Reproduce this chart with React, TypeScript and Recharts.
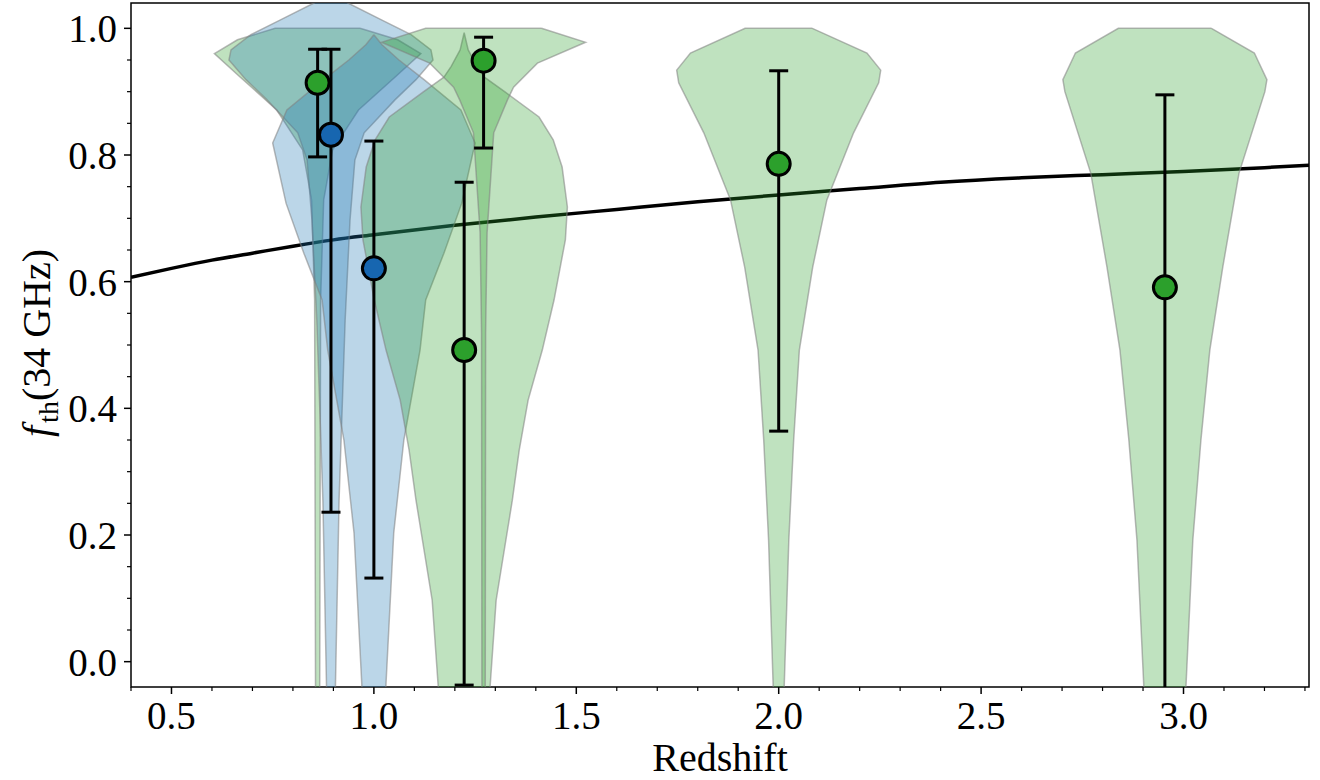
import { ComposedChart, ReferenceArea, Scatter, XAxis, YAxis } from "recharts";

const FONT = "Liberation Serif";
const GREEN = "#2ca02c";
const BLUE = "#1f77b4";

// axis ticks
const xTicks = [
  0.4, 0.5, 0.6, 0.7, 0.8, 0.9, 1.0, 1.1, 1.2, 1.3, 1.4, 1.5, 1.6, 1.7, 1.8, 1.9, 2.0, 2.1, 2.2,
  2.3, 2.4, 2.5, 2.6, 2.7, 2.8, 2.9, 3.0, 3.1, 3.2, 3.3,
];
const xMajor = [0.5, 1.0, 1.5, 2.0, 2.5, 3.0];
const yTicks = [
  0, 0.05, 0.1, 0.15, 0.2, 0.25, 0.3, 0.35, 0.4, 0.45, 0.5, 0.55, 0.6, 0.65, 0.7, 0.75, 0.8, 0.85,
  0.9, 0.95, 1.0,
];
const yMajor = [0, 0.2, 0.4, 0.6, 0.8, 1.0];

// violins: centre, levels (top -> bottom) and half widths in redshift units
const g1Center = 0.861;
const g1Levels = [1.0, 0.982, 0.96, 0.924, 0.871, 0.808, 0.729, 0.571, -0.1];
const g1Widths = [0.105, 0.198, 0.255, 0.193, 0.101, 0.037, 0.015, 0.0074, 0.005];

const b1Center = 0.894;
const b1Levels = [1.055, 1.04, 1.013, 0.99, 0.966, 0.95, 0.919, 0.887, 0.835, 0.792, 0.697, 0.539, 0.255, -0.04, -0.1];
const b1Widths = [0, 0.042, 0.126, 0.198, 0.247, 0.252, 0.21, 0.158, 0.082, 0.059, 0.047, 0.035, 0.02, 0.011, 0.01];

const b2Center = 1.0;
const b2Levels = [0.99, 0.974, 0.95, 0.919, 0.871, 0.819, 0.724, 0.645, 0.571, 0.492, 0.35, 0.203, -0.034, -0.1];
const b2Widths = [0, 0.02, 0.062, 0.124, 0.215, 0.25, 0.217, 0.173, 0.128, 0.114, 0.074, 0.049, 0.03, 0.027];

const g3Center = 1.223;
const g3Levels = [0.993, 0.966, 0.94, 0.923, 0.9, 0.86, 0.824, 0.781, 0.718, 0.666, 0.571, 0.492, 0.413, 0.334, 0.255, 0.097, -0.04, -0.1];
const g3Widths = [0, 0.01, 0.032, 0.05, 0.1, 0.185, 0.22, 0.242, 0.255, 0.25, 0.222, 0.193, 0.158, 0.136, 0.119, 0.079, 0.064, 0.06];

const g2Center = 1.271;
const g2Levels = [1.0, 0.978, 0.945, 0.907, 0.887, 0.835, 0.677, 0.519, -0.1];
const g2Widths = [0.143, 0.252, 0.133, 0.074, 0.059, 0.025, 0.0086, 0.005, 0.004];

const g4Center = 2.0;
const g4Levels = [1.0, 0.961, 0.934, 0.914, 0.835, 0.729, 0.623, 0.492, 0.35, 0.192, -0.04, -0.1];
const g4Widths = [0.083, 0.218, 0.252, 0.247, 0.185, 0.119, 0.084, 0.051, 0.037, 0.025, 0.0136, 0.012];

const g5Center = 2.954;
const g5Levels = [1.0, 0.961, 0.919, 0.9, 0.771, 0.623, 0.492, 0.35, 0.192, -0.04, -0.1];
const g5Widths = [0.115, 0.221, 0.252, 0.247, 0.183, 0.143, 0.111, 0.089, 0.069, 0.052, 0.05];

// measured points with error ranges
const greenX = [0.861, 1.271, 1.223, 2.0, 2.954];
const greenY = [0.914, 0.949, 0.492, 0.786, 0.591];
const greenLo = [0.797, 0.811, -0.037, 0.364, -0.2];
const greenHi = [0.967, 0.986, 0.757, 0.933, 0.895];

const blueX = [0.894, 1.0];
const blueY = [0.832, 0.621];
const blueLo = [0.236, 0.132];
const blueHi = [0.967, 0.822];

// model curve
const curveX = [0.4, 0.5, 0.6, 0.7, 0.8, 0.9, 1.0, 1.2, 1.4, 1.6, 1.8, 2.0, 2.2, 2.4, 2.6, 2.8, 3.0, 3.2, 3.31];
const curveY = [0.607, 0.621, 0.634, 0.645, 0.656, 0.666, 0.674, 0.689, 0.702, 0.714, 0.726, 0.737, 0.747, 0.757, 0.764, 0.769, 0.774, 0.78, 0.784];

function outline(center: number, levels: number[], widths: number[]) {
  const right = levels.map((y, i) => ({ x: center + widths[i], y }));
  const left = levels.map((y, i) => ({ x: center - widths[i], y })).reverse();
  return [...right, ...left, right[0]];
}

const violins = [
  { key: "g1", color: GREEN, data: outline(g1Center, g1Levels, g1Widths) },
  { key: "b1", color: BLUE, data: outline(b1Center, b1Levels, b1Widths) },
  { key: "b2", color: BLUE, data: outline(b2Center, b2Levels, b2Widths) },
  { key: "g3", color: GREEN, data: outline(g3Center, g3Levels, g3Widths) },
  { key: "g2", color: GREEN, data: outline(g2Center, g2Levels, g2Widths) },
  { key: "g4", color: GREEN, data: outline(g4Center, g4Levels, g4Widths) },
  { key: "g5", color: GREEN, data: outline(g5Center, g5Levels, g5Widths) },
];

const errorBars = [
  ...greenX.map((x, i) => ({ key: `ge${i}`, data: [{ x, y: greenLo[i] }, { x, y: greenHi[i] }] })),
  ...blueX.map((x, i) => ({ key: `be${i}`, data: [{ x, y: blueLo[i] }, { x, y: blueHi[i] }] })),
];

const curveData = curveX.map((x, i) => ({ x, y: curveY[i] }));
const greenData = greenX.map((x, i) => ({ x, y: greenY[i] }));
const blueData = blueX.map((x, i) => ({ x, y: blueY[i] }));

const NoDot = () => <g />;

const Cap = (props: any) => (
  <line x1={props.cx - 9.5} x2={props.cx + 9.5} y1={props.cy} y2={props.cy} stroke="#000" strokeWidth={3} />
);

const dot = (fill: string) => (props: any) => (
  <circle cx={props.cx} cy={props.cy} r={11.5} fill={fill} stroke="#000" strokeWidth={3} />
);

const XTick = (props: any) => {
  const { x, y, payload } = props;
  const major = xMajor.includes(payload.value);
  return (
    <g>
      <line x1={x} x2={x} y1={y} y2={y + (major ? 7 : 4)} stroke="#000" strokeWidth={major ? 1.5 : 1.2} />
      {major && (
        <text x={x} y={y + 42} textAnchor="middle" fontFamily={FONT} fontSize={39} fill="#000">
          {payload.value.toFixed(1)}
        </text>
      )}
    </g>
  );
};

const YTick = (props: any) => {
  const { x, y, payload } = props;
  const major = yMajor.includes(payload.value);
  return (
    <g>
      <line x1={x - (major ? 7 : 4)} x2={x} y1={y} y2={y} stroke="#000" strokeWidth={major ? 1.5 : 1.2} />
      {major && (
        <text x={x - 14} y={y + 14} textAnchor="end" fontFamily={FONT} fontSize={39} fill="#000">
          {payload.value.toFixed(1)}
        </text>
      )}
    </g>
  );
};

const YLabel = (props: any) => {
  const { x, y, height } = props.viewBox;
  const tx = x + 19;
  const ty = y + height / 2 + 92;
  return (
    <text x={tx} y={ty} transform={`rotate(-90, ${tx}, ${ty})`} fontFamily={FONT} fontSize={40} fill="#000">
      <tspan fontStyle="italic">f</tspan>
      <tspan fontSize={28} dy={8} dx={3}>th</tspan>
      <tspan dy={-8}>(34 GHz)</tspan>
    </text>
  );
};

const XLabel = (props: any) => {
  const { x, y, width } = props.viewBox;
  return (
    <text x={x + width / 2} y={y + 84} textAnchor="middle" fontFamily={FONT} fontSize={40} fill="#000">
      Redshift
    </text>
  );
};

export default function App() {
  return (
    <div style={{ position: "absolute", left: 0, top: 0, width: 1320, height: 780, background: "#fff" }}>
      <ComposedChart width={1320} height={780} margin={{ top: 3, right: 11, bottom: 0, left: 31 }}>
        <XAxis
          type="number"
          dataKey="x"
          domain={[0.4, 3.31]}
          allowDataOverflow
          ticks={xTicks}
          interval={0}
          tickSize={0}
          tickMargin={0}
          tick={<XTick />}
          axisLine={false}
          height={93}
          label={{ content: (p: any) => <XLabel {...p} /> }}
        />
        <YAxis
          type="number"
          dataKey="y"
          domain={[-0.04, 1.04]}
          allowDataOverflow
          ticks={yTicks}
          interval={0}
          tickSize={0}
          tickMargin={0}
          tick={<YTick />}
          axisLine={false}
          width={100}
          label={{ content: (p: any) => <YLabel {...p} /> }}
        />
        <Scatter
          data={curveData}
          shape={NoDot}
          line={{ stroke: "#000", strokeWidth: 3.5, fill: "none" }}
          lineJointType="monotoneX"
          isAnimationActive={false}
        />
        {violins.map((v) => (
          <Scatter
            key={v.key}
            data={v.data}
            shape={NoDot}
            line={{ fill: v.color, fillOpacity: 0.3, stroke: "#7f7f7f", strokeOpacity: 0.55, strokeWidth: 1.5 }}
            lineJointType="linear"
            isAnimationActive={false}
          />
        ))}
        {errorBars.map((e) => (
          <Scatter
            key={e.key}
            data={e.data}
            shape={Cap}
            line={{ stroke: "#000", strokeWidth: 3, fill: "none" }}
            isAnimationActive={false}
          />
        ))}
        <Scatter data={blueData} shape={dot("#1766b0")} isAnimationActive={false} />
        <Scatter data={greenData} shape={dot(GREEN)} isAnimationActive={false} />
        <ReferenceArea x1={0.4} x2={3.31} y1={-0.04} y2={1.04} fill="none" stroke="#000" strokeWidth={1.5} />
      </ComposedChart>
    </div>
  );
}
